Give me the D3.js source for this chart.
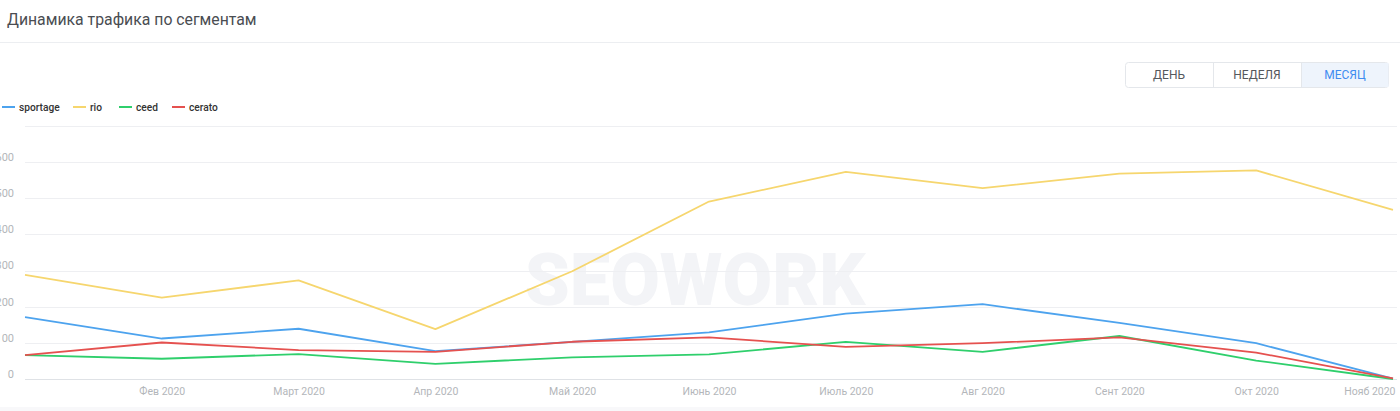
<!DOCTYPE html>
<html>
<head>
<meta charset="utf-8">
<script src="https://cdn.jsdelivr.net/npm/d3@7"></script>
<style>
  body { margin: 0; background: #fff; font-family: Roboto, "Noto Sans", sans-serif; }
  svg { display: block; }
</style>
</head>
<body>
<svg id="chart"></svg>
<script>
// data
const months = ["Янв 2020", "Фев 2020", "Март 2020", "Апр 2020", "Май 2020", "Июнь 2020",
                "Июль 2020", "Авг 2020", "Сент 2020", "Окт 2020", "Нояб 2020"];
const sportage = [171, 112, 139, 77, 103, 129, 181, 207, 155, 99, 1];
const rio      = [288, 225, 273, 138, 298, 491, 573, 528, 568, 577, 468];
const ceed     = [66, 56, 69, 42, 60, 68, 103, 75, 119, 51, 0];
const cerato   = [66, 101, 80, 75, 103, 115, 89, 99, 115, 73, 2];
const yTicks   = [0, 100, 200, 300, 400, 500, 600];
const yGrid    = [0, 100, 200, 300, 400, 500, 600, 700];
const periods  = ["ДЕНЬ", "НЕДЕЛЯ", "МЕСЯЦ"];

const seriesNames  = ["sportage", "rio", "ceed", "cerato"];
const seriesColors = ["#4da3ee", "#f6d66e", "#2fcf6c", "#e5514f"];
const seriesValues = [sportage, rio, ceed, cerato];

const width = 1400, height = 411;
const svg = d3.select("#chart").attr("width", width).attr("height", height);

// header
svg.append("text")
  .attr("x", 7).attr("y", 25)
  .attr("font-size", 15.8)
  .attr("fill", "#4a4d52")
  .text("Динамика трафика по сегментам");

svg.append("line")
  .attr("x1", 0).attr("x2", width)
  .attr("y1", 42.5).attr("y2", 42.5)
  .attr("stroke", "#eceef1");

// period switch
const btnX = d3.scaleBand().domain(periods).range([1125, 1389]);
const btn = svg.append("g");
btn.append("rect")
  .attr("x", 1125.5).attr("y", 62.5)
  .attr("width", 263).attr("height", 25)
  .attr("rx", 3)
  .attr("fill", "#fff")
  .attr("stroke", "#e4e7eb");
btn.append("rect")
  .attr("x", btnX("МЕСЯЦ")).attr("y", 63)
  .attr("width", btnX.bandwidth() - 0.5).attr("height", 24)
  .attr("fill", "#eef4fc");
btn.selectAll(".sep")
  .data(periods.slice(1))
  .enter().append("line")
    .attr("x1", d => btnX(d) + 0.5).attr("x2", d => btnX(d) + 0.5)
    .attr("y1", 63).attr("y2", 87)
    .attr("stroke", "#e4e7eb");
btn.selectAll(".lbl")
  .data(periods)
  .enter().append("text")
    .attr("x", d => btnX(d) + btnX.bandwidth() / 2)
    .attr("y", 79)
    .attr("text-anchor", "middle")
    .attr("font-size", 12)
    .attr("fill", d => d === "МЕСЯЦ" ? "#3f8cf0" : "#55585d")
    .text(d => d);

// legend
const legendX = [2, 73, 119, 172];
const legend = svg.append("g");
seriesNames.forEach((name, i) => {
  legend.append("line")
    .attr("x1", legendX[i]).attr("x2", legendX[i] + 13)
    .attr("y1", 107).attr("y2", 107)
    .attr("stroke", seriesColors[i])
    .attr("stroke-width", 2);
  legend.append("text")
    .attr("x", legendX[i] + 17).attr("y", 110.5)
    .attr("font-size", 10.2)
    .attr("font-weight", 500)
    .attr("fill", "#333")
    .text(name);
});

// scales
const x = d3.scalePoint().domain(months).range([25, 1393]);
const y = d3.scaleLinear().domain([0, 700]).range([379, 126]);

// watermark
svg.append("text")
  .attr("x", 695).attr("y", 305)
  .attr("text-anchor", "middle")
  .attr("font-size", 72)
  .attr("font-weight", 900)
  .attr("font-family", "Roboto, Inter, sans-serif")
  .attr("fill", "#f3f4f7")
  .text("SEOWORK");

// grid
svg.append("g")
  .selectAll("line")
  .data(yGrid)
  .enter().append("line")
    .attr("x1", 25).attr("x2", 1397)
    .attr("y1", d => Math.round(y(d)) + 0.5)
    .attr("y2", d => Math.round(y(d)) + 0.5)
    .attr("stroke", d => d === 0 ? "#dfe2e6" : "#eeeff2");

// y axis labels
const yAxis = d3.axisLeft(y).tickValues(yTicks).tickSize(0).tickPadding(0);
const yg = svg.append("g")
  .attr("transform", "translate(14,0)")
  .call(yAxis);
yg.select(".domain").remove();
yg.selectAll("text")
  .attr("dy", "-0.15em")
  .attr("font-size", 11)
  .attr("font-family", "Roboto, sans-serif")
  .attr("fill", "#b3b6ba");

// x axis labels
const xAxis = d3.axisBottom(x)
  .tickSize(0).tickPadding(9)
  .tickFormat((d, i) => i === 0 ? "" : d);
const xg = svg.append("g")
  .attr("transform", "translate(0,379)")
  .call(xAxis);
xg.select(".domain").remove();
xg.selectAll("text")
  .attr("font-size", 10.5)
  .attr("font-family", "Roboto, sans-serif")
  .attr("fill", "#b3b6ba")
  .filter((d, i) => i === months.length - 1)
  .attr("text-anchor", "end")
  .attr("dx", 2);

// bottom strip
svg.append("rect")
  .attr("x", 0).attr("y", 407)
  .attr("width", width).attr("height", 4)
  .attr("fill", "#f8f8fa");

// lines
const line = d3.line()
  .x((d, i) => x(months[i]))
  .y(d => y(d));

svg.append("g")
  .selectAll("path")
  .data(seriesValues)
  .enter().append("path")
    .attr("d", line)
    .attr("fill", "none")
    .attr("stroke", (d, i) => seriesColors[i])
    .attr("stroke-width", 1.8)
    .attr("stroke-linejoin", "round");
</script>
</body>
</html>
